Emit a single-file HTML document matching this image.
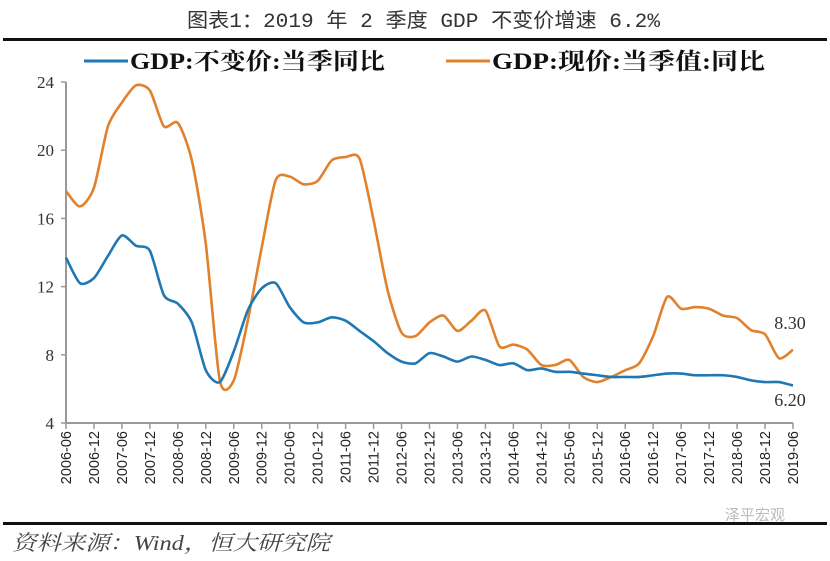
<!DOCTYPE html>
<html><head><meta charset="utf-8"><style>
body{margin:0;background:#fff;}
svg text{font-family:"Liberation Serif","Noto Serif CJK SC",serif;}
</style></head><body>
<svg width="830" height="556" viewBox="0 0 830 556">
<text x="187" y="27" textLength="473" lengthAdjust="spacingAndGlyphs" font-size="20" fill="#333" style="font-family:'Liberation Mono','Noto Sans CJK SC',monospace">图表1：2019 年 2 季度 GDP 不变价增速 6.2%</text>
<rect x="3" y="38" width="824" height="3" fill="#111"/>
<g>
<g><line x1="84" y1="61" x2="128" y2="61" stroke="#1f77b4" stroke-width="3"/><text x="130" y="69" textLength="255" lengthAdjust="spacingAndGlyphs" font-size="23" font-weight="bold" fill="#111">GDP:不变价:当季同比</text></g>
<g><line x1="446" y1="61" x2="490" y2="61" stroke="#e1812c" stroke-width="3"/><text x="492" y="69" textLength="273" lengthAdjust="spacingAndGlyphs" font-size="23" font-weight="bold" fill="#111">GDP:现价:当季值:同比</text></g>
</g>
<g id="axes"></g>
<g id="plot"></g>
<text x="790" y="329" text-anchor="middle" font-size="18" fill="#333">8.30</text>
<text x="790" y="406" text-anchor="middle" font-size="18" fill="#333">6.20</text>
<rect x="3" y="522" width="824" height="3" fill="#111"/>
<text x="12" y="550" textLength="318" lengthAdjust="spacingAndGlyphs" font-size="21" font-style="italic" fill="#444">资料来源：Wind，恒大研究院</text>
<text x="725" y="520" font-size="15" fill="#bbb" style="font-family:'Noto Sans CJK SC',sans-serif">泽平宏观</text>
</svg>
<script>
const realGdp=[13.7,12.2,12.5,13.8,15.0,14.4,14.1,11.5,11.0,9.9,7.1,6.4,8.2,10.6,11.9,12.2,10.8,9.9,9.9,10.2,10.0,9.4,8.8,8.1,7.6,7.5,8.1,7.9,7.6,7.9,7.7,7.4,7.5,7.1,7.2,7.0,7.0,6.9,6.8,6.7,6.7,6.7,6.8,6.9,6.9,6.8,6.8,6.8,6.7,6.5,6.4,6.4,6.2];
const nominalGdp=[17.6,16.7,17.8,21.4,22.8,23.8,23.5,21.4,21.6,19.4,14.5,6.5,6.5,10.0,14.3,18.25,18.45,18.0,18.2,19.4,19.6,19.5,15.9,11.8,9.3,9.1,9.9,10.3,9.4,10.0,10.6,8.5,8.6,8.3,7.4,7.4,7.7,6.7,6.4,6.7,7.1,7.5,9.1,11.4,10.7,10.8,10.7,10.3,10.15,9.45,9.2,7.8,8.3];
const yTicks=[4,8,12,16,20,24];
const xLabels=[];
for(let y=2006;y<=2019;y++){xLabels.push(y+'-06');if(y<2019)xLabels.push(y+'-12');}
const X0=66,X1=793,Y0=423,Y1=82;
const xs=i=>X0+(X1-X0)*i/(realGdp.length-1);
const ys=v=>Y0-(v-4)*(Y0-Y1)/20;
const NS='http://www.w3.org/2000/svg';
const ax=document.getElementById('axes'),pl=document.getElementById('plot');
function mk(t,a,p){const e=document.createElementNS(NS,t);for(const k in a)e.setAttribute(k,a[k]);p.appendChild(e);return e;}
let e=mk('line',{x1:X0,y1:Y1,x2:X0,y2:Y0,stroke:'#999','stroke-width':2},ax);


e=mk('line',{x1:X0,y1:Y0,x2:X1,y2:Y0,stroke:'#999','stroke-width':2},ax);


yTicks.forEach(v=>{
 mk('line',{x1:X0-5,y1:ys(v),x2:X0,y2:ys(v),stroke:'#999','stroke-width':1.5},ax);
 const t=mk('text',{x:X0-12,y:ys(v)+6,'text-anchor':'end','font-size':17,fill:'#333'},ax);t.textContent=v;
 
 
});
xLabels.forEach((lab,j)=>{
 const x=xs(j*2);
 mk('line',{x1:x,y1:Y0,x2:x,y2:Y0+6,stroke:'#999','stroke-width':1.5},ax);
 const t=mk('text',{x:0,y:0,transform:`translate(${x+5},431) rotate(-90)`,'text-anchor':'end','font-size':14.5,fill:'#222'},ax);
 t.setAttribute('style','font-family:"Liberation Sans",sans-serif');
 t.textContent=lab;
 
 
});
function path(vals){
 const p=vals.map((v,i)=>[xs(i),ys(v)]);
 let d=`M${p[0][0]},${p[0][1]}`;
 for(let i=0;i<p.length-1;i++){
  const a=p[Math.max(0,i-1)],b=p[i],c=p[i+1],n=p[Math.min(p.length-1,i+2)];
  d+=`C${b[0]+(c[0]-a[0])/8},${b[1]+(c[1]-a[1])/8} ${c[0]-(n[0]-b[0])/8},${c[1]-(n[1]-b[1])/8} ${c[0]},${c[1]}`;
 }
 return d;
}
e=mk('path',{d:path(nominalGdp),fill:'none',stroke:'#e1812c','stroke-width':2.6},pl);


e=mk('path',{d:path(realGdp),fill:'none',stroke:'#1f77b4','stroke-width':2.6},pl);


</script>
</body></html>
